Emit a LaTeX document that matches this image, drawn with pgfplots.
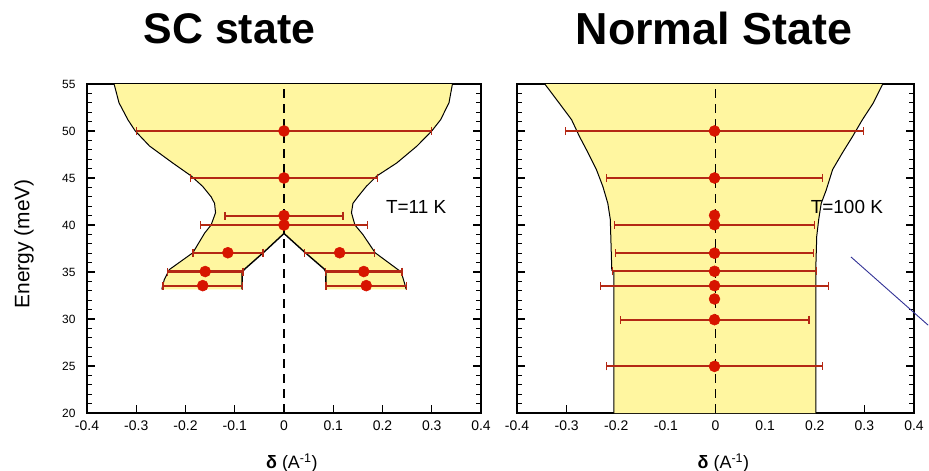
\documentclass[border=0pt]{standalone}
\usepackage{fontspec}
\setmainfont{Liberation Sans}
\usepackage{pgfplots}
\pgfplotsset{compat=1.18}
\definecolor{fillY}{RGB}{255,246,160}
\definecolor{barR}{RGB}{180,40,20}
\definecolor{dotR}{RGB}{215,20,0}
\definecolor{lineB}{RGB}{50,50,150}
\pgfkeys{/pgf/number format/assume math mode=true}
\pgfplotsset{
  myax/.style={
    scale only axis, height=329bp,
    xmin=-0.4, xmax=0.4, ymin=20, ymax=55,
    xtick={-0.4,-0.3,-0.2,-0.1,0,0.1,0.2,0.3,0.4},
    ytick={20,25,30,35,40,45,50,55}, minor y tick num=4,
    tick align=inside,
    major tick length=8bp, minor tick length=5bp,
    every tick/.style={black, line width=1.1bp},
    axis line style={line width=1.5bp},
    xticklabel style={font=\fontsize{14}{14}\selectfont, yshift=-4bp,
      /pgf/number format/fixed, /pgf/number format/precision=1},
    yticklabel style={font=\fontsize{12}{12}\selectfont, xshift=-8bp},
    xlabel={\textbf{δ} (A\textsuperscript{-1})},
    xlabel style={font=\fontsize{18}{18}\selectfont, at={(axis description cs:0.52,-0.152)}, anchor=center},
  },
  ebar/.style={color=barR, line width=2.2bp, only marks, mark=*, mark size=5.5bp,
    mark options={fill=dotR, draw=dotR, line width=0.5bp},
    error bars/.cd, x dir=both, x explicit,
    error mark=|,
    error bar style={color=barR, line width=2.2bp},
    error mark options={color=barR, mark size=4bp, line width=1.4bp}},
  dot/.style={only marks, mark=*, mark size=5.5bp, mark options={fill=dotR, draw=dotR}},
  zline/.style={black, line width=1.3bp, dash pattern=on 9bp off 6bp},
  bnd/.style={black, line width=1bp},
}
\begin{document}
\begin{tikzpicture}
\useasboundingbox (0,0) rectangle (929bp,471bp);
\node[anchor=base, font=\fontsize{43}{43}\selectfont\bfseries] at (229.5bp,427bp) {SC state};
\node[anchor=base, font=\fontsize{45}{45}\selectfont\bfseries] at (714bp,426bp) {Normal State};

% ---------------- SC state ----------------
\begin{axis}[myax, width=394bp, at={(87bp,58bp)}, anchor=south west,
  ylabel={Energy (meV)},
  ylabel style={font=\fontsize{21}{21}\selectfont, at={(axis description cs:-0.16,0.514)}, anchor=center}]
\addplot[fill=fillY, draw=none] coordinates {
(-0.345,55) (-0.335,53) (-0.317,51.2) (-0.302,50) (-0.273,48.4) (-0.226,46.6) (-0.188,45.2)
(-0.165,44.1) (-0.148,43) (-0.141,42.3) (-0.139,41.3) (-0.148,40) (-0.161,39.15) (-0.185,37.05)
(-0.233,35.25) (-0.243,34.2) (-0.247,33.4) (-0.248,33.15)
(-0.085,33.15) (-0.085,35.0) (-0.08,35.3) (-0.039,37.2) (0,39.1) (0.04,37.2) (0.082,35.3)
(0.085,35.0) (0.085,33.15)
(0.248,33.15) (0.247,33.4) (0.238,35.0) (0.185,37.05) (0.16,39.0) (0.144,40) (0.137,41.3)
(0.14,42.3) (0.15,43) (0.167,44.1) (0.188,45.2) (0.229,46.6) (0.27,48.4) (0.3,50) (0.318,51.2)
(0.335,53) (0.342,55)};
\addplot[bnd] coordinates {
(-0.345,55) (-0.335,53) (-0.317,51.2) (-0.302,50) (-0.273,48.4) (-0.226,46.6) (-0.188,45.2)
(-0.165,44.1) (-0.148,43) (-0.141,42.3) (-0.139,41.3) (-0.148,40) (-0.161,39.15) (-0.185,37.05)
(-0.233,35.25) (-0.243,34.2) (-0.247,33.4) (-0.248,33.15)};
\addplot[bnd] coordinates {
(0.248,33.15) (0.247,33.4) (0.238,35.0) (0.185,37.05) (0.16,39.0) (0.144,40) (0.137,41.3)
(0.14,42.3) (0.15,43) (0.167,44.1) (0.188,45.2) (0.229,46.6) (0.27,48.4) (0.3,50) (0.318,51.2)
(0.335,53) (0.342,55)};
\addplot[bnd, line width=1.4bp] coordinates {
(-0.085,33.15) (-0.085,35.0) (-0.08,35.3) (-0.039,37.2) (0,39.1) (0.04,37.2) (0.082,35.3)
(0.085,35.0) (0.085,33.15)};
\addplot[zline] coordinates {(0,20) (0,55)};
\addplot[ebar] table[x=x, y=y, x error=e] {
x y e
0 50 0.30
0 45 0.19
0 41 0.12
0 40 0.17
-0.114 37.05 0.071
0.113 37.05 0.071
-0.160 35.05 0.077
0.162 35.05 0.078
-0.165 33.55 0.081
0.167 33.55 0.082
};
\node[anchor=west, font=\fontsize{19}{19}\selectfont] at (axis cs:0.2,41.9) {T=11 K};
\end{axis}

% ---------------- Normal state ----------------
\begin{axis}[myax, width=397bp, at={(517bp,58bp)}, anchor=south west,
  yticklabels={}, clip=false]
\addplot[fill=fillY, draw=none] coordinates {
(-0.344,55) (-0.314,52.9) (-0.29,51.2) (-0.274,49.4) (-0.257,47.7) (-0.24,45.9) (-0.227,44.1)
(-0.217,42.3) (-0.212,40.6) (-0.211,38.8) (-0.209,35.2) (-0.205,35.0) (-0.205,20)
(0.202,20) (0.202,35.2) (0.204,38.8) (0.208,40.6) (0.213,42.3) (0.223,43.7) (0.236,45.9)
(0.256,47.7) (0.276,49.4) (0.296,51.2) (0.317,52.9) (0.337,55)};
\addplot[bnd] coordinates {
(-0.344,55) (-0.314,52.9) (-0.29,51.2) (-0.274,49.4) (-0.257,47.7) (-0.24,45.9) (-0.227,44.1)
(-0.217,42.3) (-0.212,40.6) (-0.211,38.8) (-0.209,35.2) (-0.205,35.0) (-0.205,20)};
\addplot[bnd] coordinates {
(0.202,20) (0.202,35.2) (0.204,38.8) (0.208,40.6) (0.213,42.3) (0.223,43.7) (0.236,45.9)
(0.256,47.7) (0.276,49.4) (0.296,51.2) (0.317,52.9) (0.337,55)};
\addplot[zline] coordinates {(0,20) (0,55)};
\addplot[ebar] table[x=x, y=y, x error=e] {
x y e
-0.002 50 0.30
-0.002 45 0.218
-0.002 40.04 0.202
-0.002 37.0 0.20
-0.002 35.07 0.205
-0.002 33.55 0.23
-0.002 29.93 0.19
-0.002 24.96 0.218
};
\addplot[dot] coordinates {(-0.002,41.03) (-0.002,32.13)};
\addplot[lineB, line width=0.9bp] coordinates {(0.273,36.6) (0.4286,29.34)};
\node[anchor=west, font=\fontsize{19}{19}\selectfont] at (axis cs:0.185,41.9) {T=100 K};
\end{axis}
\end{tikzpicture}
\end{document}
